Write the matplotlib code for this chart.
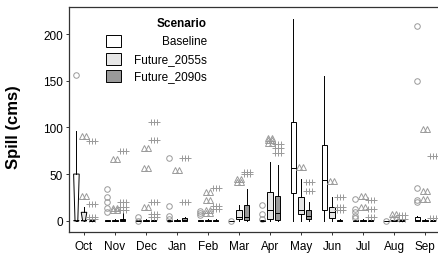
import matplotlib
matplotlib.use("Agg")
import matplotlib.pyplot as plt
from matplotlib.patches import Rectangle

plt.rcParams["font.family"] = ["Liberation Sans", "DejaVu Sans"]

# ---- data (values in cms) ----
months = ["Oct", "Nov", "Dec", "Jan", "Feb", "Mar", "Apr", "May", "Jun", "Jul", "Aug", "Sep"]
scenarios = ["Baseline", "Future_2055s", "Future_2090s"]

# Baseline
base_q1 = [0, 0, 0, 0, 0, 0, 0, 30, 11, 0, 0, 0]
base_med = [0, 0, 0, 0, 0, 0, 0, 56, 44, 0, 0, 1]
base_q3 = [50, 0.5, 0.5, 0.5, 0.5, 0, 0.5, 106, 81, 0.5, 0, 4]
base_lo = [0, 0, 0, 0, 0, 0, 0, 0, 0, 0, 0, 0]
base_hi = [96, 1, 1, 1, 1, 0, 1, 216, 155, 1, 0, 5]
base_out = [[156], [34, 25, 20, 14, 9], [4, 0], [67, 16, 5, 2], [10, 8, 6], [0],
            [17, 7, 2], [], [], [23, 13, 9, 5, 3], [0], [209, 150, 35, 22, 20]]

# Future_2055s
f55_q1 = [0, 0, 0, 0, 0, 2, 2, 7, 2.6, 0, 0, 0]
f55_med = [0, 0, 0, 0, 0, 4, 11.5, 11, 9, 0, 0, 0]
f55_q3 = [9, 1, 1, 1, 1, 11.5, 31, 25, 15, 1, 0.5, 1]
f55_lo = [0, 0, 0, 0, 0, 0, 0, 0, 0, 0, 0, 0]
f55_hi = [15, 2, 2, 2, 2, 17, 63, 45, 25, 2, 1, 2]
f55_out = [[91, 27], [66, 14, 12], [78, 56, 15], [54], [31, 22, 11, 8], [45, 41],
           [89, 86, 83], [58], [43], [27, 15], [7, 3], [98, 32, 23]]

# Future_2090s
f90_q1 = [0, 0, 0, 0, 0, 0.5, 1, 2, 0, 0, 0, 0]
f90_med = [0, 1, 0, 1, 0, 4, 8, 5, 0, 0, 0, 0]
f90_q3 = [1, 2, 1, 3, 1, 17, 27, 11.5, 1, 1, 0.5, 1]
f90_lo = [0, 0, 0, 0, 0, 0, 0, 0, 0, 0, 0, 0]
f90_hi = [2, 8, 2, 4, 2, 34, 60, 20, 2, 2, 1, 2]
f90_out = [[85, 18, 4, 2], [75, 20, 15, 11], [106, 87, 20, 7, 4], [67, 20], [35, 16, 13],
           [52, 50], [82, 78, 73], [42, 32], [25, 15, 11], [22, 13, 4], [6, 2], [69, 3]]

# boxes whose notch overshoots the hinges (drawn notched): (scenario index, month index)
notched = [(0, 0), (1, 0)]

# ---- styling ----
fills = ["white", "#e6e6e6", "#999999"]
out_color = "#9a9a9a"
out_markers = ["o", "^", "+"]
out_offsets = [[0.0], [-0.075, 0.075], [-0.1, 0.0, 0.1]]
dodge = [-0.245, 0.0, 0.245]
box_w = 0.18

groups = [
    (base_q1, base_med, base_q3, base_lo, base_hi, base_out),
    (f55_q1, f55_med, f55_q3, f55_lo, f55_hi, f55_out),
    (f90_q1, f90_med, f90_q3, f90_lo, f90_hi, f90_out),
]

fig = plt.figure(figsize=(4.39, 2.55), dpi=100)
ax = fig.add_axes([69 / 439, 22 / 255, 370 / 439, 225 / 255])

line_kw = dict(color="black", linewidth=0.7)

for si, (q1, med, q3, lo, hi, outs) in enumerate(groups):
    for mi in range(len(months)):
        pos = mi + 1 + dodge[si]
        is_notch = (si, mi) in notched
        stat = dict(q1=q1[mi], med=med[mi], q3=q3[mi], whislo=lo[mi], whishi=hi[mi],
                    fliers=[], cilo=q1[mi], cihi=q3[mi])
        ax.bxp([stat], positions=[pos], widths=box_w, patch_artist=True,
               shownotches=is_notch, showcaps=False, showfliers=False,
               boxprops=dict(facecolor=fills[si], edgecolor="black", linewidth=0.7),
               whiskerprops=line_kw, medianprops=line_kw, manage_ticks=False)
        # outliers
        for v in outs[mi]:
            for off in out_offsets[si]:
                if out_markers[si] == "+":
                    ax.plot(pos + off, v, marker="+", color=out_color, markersize=4.5,
                            markeredgewidth=0.7, linestyle="none")
                else:
                    ax.plot(pos + off, v, marker=out_markers[si], markerfacecolor="none",
                            markeredgecolor=out_color, markersize=4,
                            markeredgewidth=0.7, linestyle="none")

ax.set_xlim(0.516, 12.45)
ax.set_ylim(-12.1, 229)
ax.set_xticks(range(1, len(months) + 1))
ax.set_xticklabels(months)
ax.set_yticks([0, 50, 100, 150, 200])
ax.tick_params(axis="both", labelsize=8.5, length=2.5, width=0.7, color="#333333",
               labelcolor="black", pad=2)
ax.tick_params(axis="x", pad=3)

for side in ["left", "top", "bottom"]:
    ax.spines[side].set_linewidth(0.9)
    ax.spines[side].set_color("#333333")
ax.spines["right"].set_visible(False)

fig.text(14 / 439, 0.5, "Spill (cms)", rotation=90, ha="center", va="center",
         fontsize=12, fontweight="bold")

# ---- legend (right-aligned labels, keys on the left) ----
key_x = 0.100
key_w = 0.040
key_h = 0.053
text_x = 0.373
row_y = [0.850, 0.769, 0.695]
ax.text(text_x, 0.928, "Scenario", transform=ax.transAxes, ha="right", va="center",
        fontsize=8.5, fontweight="bold")
for i, name in enumerate(scenarios):
    ax.add_patch(Rectangle((key_x, row_y[i] - key_h / 2), key_w, key_h, transform=ax.transAxes,
                           facecolor=fills[i], edgecolor="black", linewidth=0.7, clip_on=False))
    ax.text(text_x, row_y[i], name, transform=ax.transAxes, ha="right", va="center", fontsize=8.5)

fig.savefig("out.png", dpi=100)
